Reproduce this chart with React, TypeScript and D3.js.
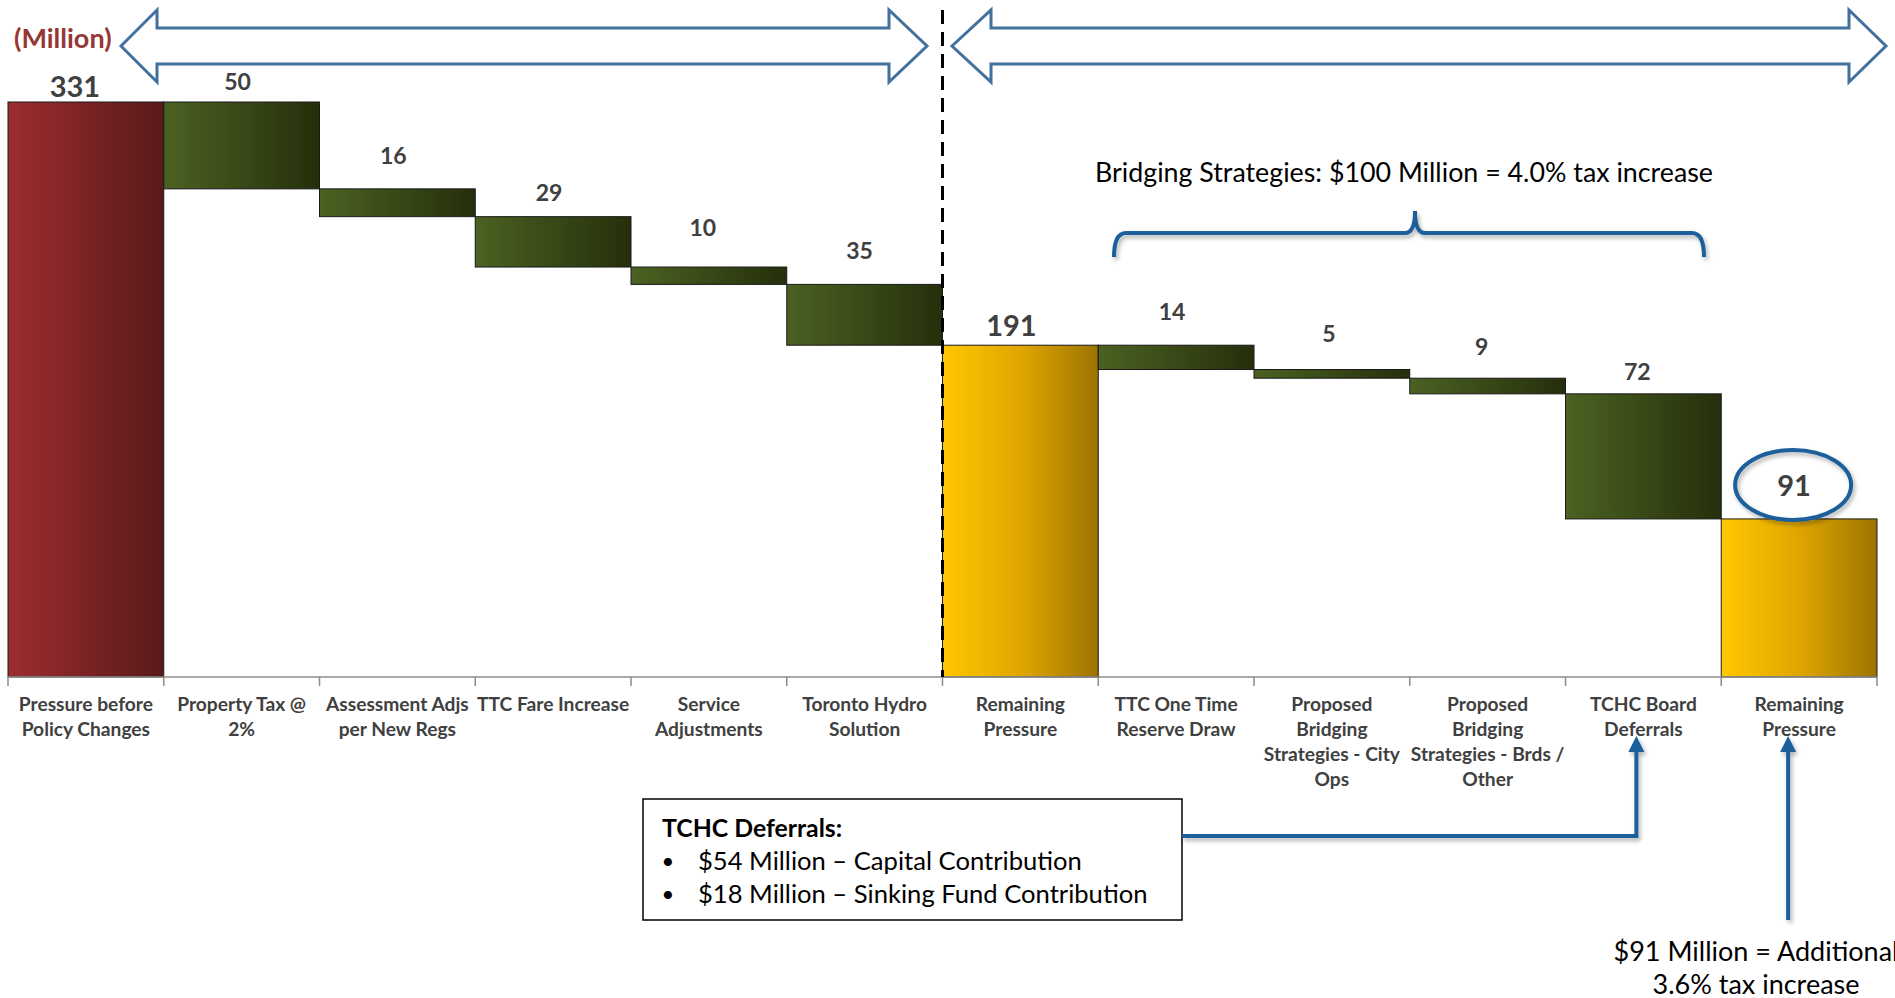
import React from "react";
import * as d3 from "d3";

// ---------- data ----------
const categories: string[][] = [
  ["Pressure before", "Policy Changes"],
  ["Property Tax @", "2%"],
  ["Assessment Adjs", "per New Regs"],
  ["TTC Fare Increase"],
  ["Service", "Adjustments"],
  ["Toronto Hydro", "Solution"],
  ["Remaining", "Pressure"],
  ["TTC One Time", "Reserve Draw"],
  ["Proposed", "Bridging", "Strategies - City", "Ops"],
  ["Proposed", "Bridging", "Strategies - Brds /", "Other"],
  ["TCHC Board", "Deferrals"],
  ["Remaining", "Pressure"],
];
const amounts = [331, 50, 16, 29, 10, 35, 191, 14, 5, 9, 72, 91];
const kinds = ["start", "delta", "delta", "delta", "delta", "delta", "total", "delta", "delta", "delta", "delta", "total"];
const boxTitle = "TCHC Deferrals:";
const boxLines = ["$54 Million – Capital Contribution", "$18 Million – Sinking Fund Contribution"];
const bridgingText = "Bridging Strategies: $100 Million = 4.0% tax increase";
const bottomLines = ["$91 Million = Additional", "3.6% tax increase"];
const unitLabel = "(Million)";

// ---------- layout ----------
const W = 1895;
const H = 998;
const X0 = 8;
const X1 = 1877;
const BASE = 677;
const TOP = 102;
const labelLift = [17, 21, 34, 25, 40, 34, 21, 34, 37, 32, 23, 34];
const labelShift = [-11, -4, -4, -4, -6, -5, -9, -4, -3, -6, -6, -5];
const BLUE = "#1B5E9B";
const ARROW = "#41719C";
const TXT = "#404040";
const FONT = "Lato, 'Open Sans', sans-serif";

type Bar = { i: number; top: number; bottom: number; kind: string; amount: number };

export default function App() {
  const x = d3
    .scaleBand<number>()
    .domain(d3.range(categories.length))
    .range([X0, X1])
    .paddingInner(0)
    .paddingOuter(0);
  const y = d3.scaleLinear().domain([0, amounts[0]]).range([BASE, TOP]);

  let running = 0;
  const bars: Bar[] = amounts.map((a, i) => {
    const k = kinds[i];
    if (k === "delta") {
      const top = running;
      running = running - a;
      return { i, top, bottom: running, kind: k, amount: a };
    }
    running = a;
    return { i, top: a, bottom: 0, kind: k, amount: a };
  });

  const fillFor = (k: string) => (k === "start" ? "url(#gRed)" : k === "total" ? "url(#gGold)" : "url(#gGreen)");
  const bw = x.bandwidth();
  const splitX = x(6)!;

  // connector geometry
  const tchcX = x(10)! + bw / 2 - 7;
  const lastX = x(11)! + bw / 2 - 11;
  const arrowTipY = 736;
  const connY = 836;

  const braceL = 1114;
  const braceR = 1704;
  const braceM = 1415;
  const braceY = 233;

  return (
    <svg
      width={W}
      height={H}
      viewBox={`0 0 ${W} ${H}`}
      style={{ position: "absolute", left: 0, top: 0, display: "block", background: "#fff" }}
    >
      <defs>
        <linearGradient id="gRed" x1="0" x2="1" y1="0" y2="0">
          <stop offset="0" stopColor="#9C2D30" />
          <stop offset="1" stopColor="#5A1919" />
        </linearGradient>
        <linearGradient id="gGreen" x1="0" x2="1" y1="0" y2="0">
          <stop offset="0" stopColor="#4B6222" />
          <stop offset="1" stopColor="#252F0B" />
        </linearGradient>
        <linearGradient id="gGold" x1="0" x2="1" y1="0" y2="0">
          <stop offset="0" stopColor="#FFC800" />
          <stop offset="0.5" stopColor="#E0A600" />
          <stop offset="1" stopColor="#9C7300" />
        </linearGradient>
        <filter id="shadow" x="-10%" y="-10%" width="130%" height="130%">
          <feDropShadow dx="2" dy="3" stdDeviation="2" floodColor="#000" floodOpacity="0.3" />
        </filter>
      </defs>

      {/* block arrows */}
      <path
        d="M121,46 L157,10 L157,28 L889,28 L889,10 L927,46 L889,82 L889,64 L157,64 L157,82 Z"
        fill="#fff"
        stroke={ARROW}
        strokeWidth={3}
        strokeLinejoin="miter"
      />
      <path
        d="M952,46 L991,10 L991,28 L1849,28 L1849,10 L1886,46 L1849,82 L1849,64 L991,64 L991,82 Z"
        fill="#fff"
        stroke={ARROW}
        strokeWidth={3}
      />

      <text x={14} y={37} dominantBaseline="central" fontFamily={FONT} fontWeight={700} fontSize={27} fill="#953735">
        {unitLabel}
      </text>

      {/* bars */}
      {bars.map((b) => (
        <rect
          key={b.i}
          x={x(b.i)!}
          y={y(b.top)}
          width={bw}
          height={y(b.bottom) - y(b.top)}
          fill={fillFor(b.kind)}
          stroke="#1a1a1a"
          strokeWidth={1}
        />
      ))}

      {/* axis */}
      <line x1={X0} x2={X1} y1={BASE} y2={BASE} stroke="#8C8C8C" strokeWidth={1.5} />
      {d3.range(categories.length + 1).map((i) => {
        const tx = i < categories.length ? x(i)! : X1;
        return <line key={i} x1={tx} x2={tx} y1={BASE} y2={BASE + 9} stroke="#8C8C8C" strokeWidth={1.5} />;
      })}

      {/* category labels */}
      {categories.map((lines, i) => (
        <text
          key={i}
          x={x(i)! + bw / 2}
          textAnchor="middle"
          fontFamily={FONT}
          fontWeight={700}
          fontSize={19.2}
          fill={TXT}
        >
          {lines.map((l, j) => (
            <tspan key={j} x={x(i)! + bw / 2} y={703 + j * 25} dominantBaseline="central">
              {l}
            </tspan>
          ))}
        </text>
      ))}

      {/* dashed split line */}
      <line x1={splitX} x2={splitX} y1={10} y2={BASE} stroke="#000" strokeWidth={3} strokeDasharray="14 8" />

      {/* value labels */}
      {bars.map((b) => (
        <text
          key={b.i}
          x={x(b.i)! + bw / 2 + labelShift[b.i]}
          y={y(b.top) - labelLift[b.i]}
          textAnchor="middle"
          dominantBaseline="central"
          fontFamily={FONT}
          fontWeight={700}
          fontSize={b.kind === "delta" ? 23 : 29}
          fill={TXT}
        >
          {b.amount}
        </text>
      ))}

      {/* ellipse around final value */}
      <ellipse
        cx={x(11)! + bw / 2 - 6}
        cy={y(bars[11].top) - labelLift[11]}
        rx={58}
        ry={35}
        fill="none"
        stroke={BLUE}
        strokeWidth={4}
        filter="url(#shadow)"
      />

      {/* bridging brace */}
      <text x={1404} y={172} textAnchor="middle" dominantBaseline="central" fontFamily={FONT} fontSize={26.8} fill="#000">
        {bridgingText}
      </text>
      <path
        d={`M${braceL},${braceY + 24} Q${braceL},${braceY} ${braceL + 12},${braceY} L${braceM - 10},${braceY} Q${braceM},${braceY} ${braceM},${braceY - 22} Q${braceM},${braceY} ${braceM + 10},${braceY} L${braceR - 12},${braceY} Q${braceR},${braceY} ${braceR},${braceY + 24}`}
        fill="none"
        stroke={BLUE}
        strokeWidth={4}
        filter="url(#shadow)"
      />

      {/* TCHC text box */}
      <rect x={643} y={799} width={539} height={121} fill="#fff" stroke="#000" strokeWidth={1.5} />
      <text x={662} y={827} dominantBaseline="central" fontFamily={FONT} fontWeight={700} fontSize={24.8} fill="#000">
        {boxTitle}
      </text>
      {boxLines.map((l, j) => (
        <g key={j}>
          <text x={668} y={860 + j * 33} textAnchor="middle" dominantBaseline="central" fontFamily={FONT} fontSize={22} fill="#000">
            •
          </text>
          <text x={698} y={860 + j * 33} dominantBaseline="central" fontFamily={FONT} fontSize={25.6} fill="#000">
            {l}
          </text>
        </g>
      ))}

      {/* connectors */}
      <g filter="url(#shadow)">
        <path d={`M1182,${connY} L${tchcX},${connY} L${tchcX},${arrowTipY + 14}`} fill="none" stroke={BLUE} strokeWidth={4} />
        <path d={`M${tchcX},${arrowTipY} L${tchcX - 8},${arrowTipY + 16} L${tchcX + 8},${arrowTipY + 16} Z`} fill={BLUE} />
        <path d={`M${lastX},920 L${lastX},${arrowTipY + 14}`} fill="none" stroke={BLUE} strokeWidth={4} />
        <path d={`M${lastX},${arrowTipY} L${lastX - 8},${arrowTipY + 16} L${lastX + 8},${arrowTipY + 16} Z`} fill={BLUE} />
      </g>

      {/* bottom note (clipped at the right edge, as in the reference) */}
      {bottomLines.map((l, j) => (
        <text key={j} x={1756} y={950 + j * 33} textAnchor="middle" dominantBaseline="central" fontFamily={FONT} fontSize={27} fill="#000">
          {l}
        </text>
      ))}
    </svg>
  );
}
